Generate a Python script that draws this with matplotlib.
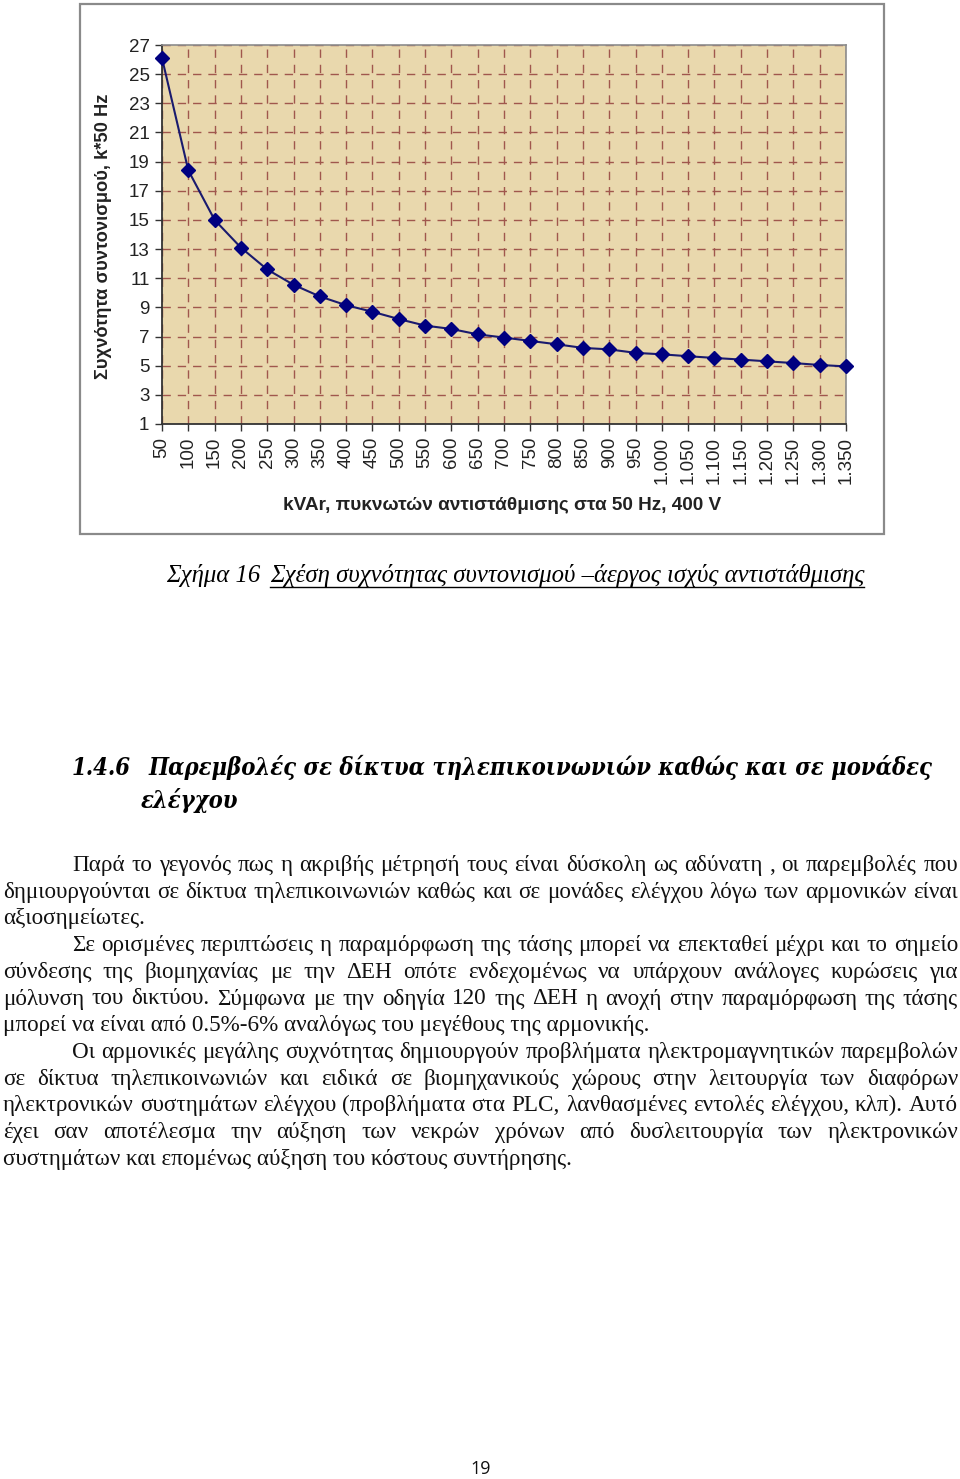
import matplotlib
matplotlib.use("Agg")
import matplotlib.pyplot as plt
from matplotlib.patches import Rectangle
from matplotlib.lines import Line2D

# ---------------- data ----------------
kvar_labels = ["50", "100", "150", "200", "250", "300", "350", "400", "450", "500",
               "550", "600", "650", "700", "750", "800", "850", "900", "950", "1.000",
               "1.050", "1.100", "1.150", "1.200", "1.250", "1.300", "1.350"]
k_values = [26.1, 18.4, 15.0, 13.1, 11.6, 10.55, 9.75, 9.15, 8.7, 8.2,
            7.75, 7.52, 7.15, 6.93, 6.7, 6.47, 6.22, 6.12, 5.88, 5.78,
            5.65, 5.53, 5.42, 5.3, 5.18, 5.05, 4.95]
y_ticks = list(range(1, 28, 2))

y_label = "Συχνότητα συντονισμού, k*50 Hz"
x_label = "kVAr, πυκνωτών αντιστάθμισης στα 50 Hz, 400 V"
caption_num = "Σχήμα 16"
caption_text = "Σχέση συχνότητας συντονισμού –άεργος ισχύς αντιστάθμισης"
heading_num = "1.4.6"
heading_l1 = "Παρεμβολές σε δίκτυα τηλεπικοινωνιών καθώς και σε μονάδες"
heading_l2 = "ελέγχου"
# (text, justified?, indented?)
para_lines = [
    ("Παρά το γεγονός πως η ακριβής μέτρησή τους είναι δύσκολη ως αδύνατη , οι παρεμβολές που", True, True),
    ("δημιουργούνται σε δίκτυα τηλεπικοινωνιών καθώς και σε μονάδες ελέγχου λόγω των αρμονικών είναι", True, False),
    ("αξιοσημείωτες.", False, False),
    ("Σε ορισμένες περιπτώσεις η παραμόρφωση της τάσης μπορεί να επεκταθεί μέχρι και το σημείο", True, True),
    ("σύνδεσης της βιομηχανίας με την ΔΕΗ οπότε ενδεχομένως να υπάρχουν ανάλογες κυρώσεις για", True, False),
    ("μόλυνση του δικτύου. Σύμφωνα με την οδηγία 120 της ΔΕΗ η ανοχή στην παραμόρφωση της τάσης", True, False),
    ("μπορεί να είναι από 0.5%-6% αναλόγως του μεγέθους της αρμονικής.", False, False),
    ("Οι αρμονικές μεγάλης συχνότητας δημιουργούν προβλήματα ηλεκτρομαγνητικών παρεμβολών", True, True),
    ("σε δίκτυα τηλεπικοινωνιών και ειδικά σε βιομηχανικούς χώρους στην λειτουργία των διαφόρων", True, False),
    ("ηλεκτρονικών συστημάτων ελέγχου (προβλήματα στα PLC, λανθασμένες εντολές ελέγχου, κλπ). Αυτό", True, False),
    ("έχει σαν αποτέλεσμα την αύξηση των νεκρών χρόνων από δυσλειτουργία των ηλεκτρονικών", True, False),
    ("συστημάτων και επομένως αύξηση του κόστους συντήρησης.", False, False),
]
page_number = "19"

# ---------------- figure ----------------
W, H = 960, 1479
fig = plt.figure(figsize=(W / 100, H / 100), dpi=100)
fig.patch.set_facecolor("white")
renderer = fig.canvas.get_renderer()


def fx(x):
    return x / W


def fy(y):
    return 1 - y / H


def measure(s, **kw):
    t = fig.text(0, 0, s, **kw)
    w = t.get_window_extent(renderer=renderer).width
    t.remove()
    return w


def fit_size(s, target, **kw):
    base = 20.0
    return base * target / measure(s, fontsize=base, **kw)


# chart frame (drawn beneath the axes)
frame = Rectangle((fx(80), fy(534)), fx(884) - fx(80), fy(4) - fy(534),
                  transform=fig.transFigure, facecolor="white",
                  edgecolor="#8a8a8a", lw=1.6, zorder=-5)
fig.add_artist(frame)

ax = fig.add_axes([fx(162), fy(424), fx(846) - fx(162), fy(45) - fy(424)])
ax.set_zorder(2)
ax.set_facecolor("#e9d8ad")
xs = list(range(len(kvar_labels)))
ax.set_xlim(0, len(kvar_labels) - 1)
ax.set_ylim(1, 27)
ax.set_yticks(y_ticks)
ax.set_xticks(xs)
ax.set_xticklabels(kvar_labels, rotation=90, fontsize=13.5, family="Liberation Sans", color="#222222")
ax.set_yticklabels([str(v) for v in y_ticks], fontsize=13.5, family="Liberation Sans", color="#222222")
ax.tick_params(axis="both", direction="out", length=5, width=1, color="#333333", pad=4)
ax.grid(True, color="#a0574d", lw=1.0, linestyle=(0, (6, 5)))
ax.set_axisbelow(True)
for side in ["top", "right"]:
    ax.spines[side].set_color("#8c8c8c")
    ax.spines[side].set_linewidth(1.2)
for side in ["left", "bottom"]:
    ax.spines[side].set_color("#333333")
    ax.spines[side].set_linewidth(1.3)

ax.plot(xs, k_values, color="#1a1a6e", lw=1.5, marker="D", markersize=7,
        markerfacecolor="#000080", markeredgecolor="#000080", clip_on=False, zorder=5)

ylab_fs = fit_size(y_label, 285, family="Liberation Sans", fontweight="bold")
fig.text(fx(104), fy(236), y_label, rotation=90, ha="center", va="center",
         fontsize=ylab_fs, family="Liberation Sans", fontweight="bold", color="#222222", zorder=3)
xlab_fs = fit_size(x_label, 439, family="Liberation Sans", fontweight="bold")
fig.text(fx(502), fy(505), x_label, ha="center", va="center",
         fontsize=xlab_fs, family="Liberation Sans", fontweight="bold", color="#222222", zorder=3)

# caption
cap_kw = dict(family="Liberation Serif", style="italic")
cap_fs = fit_size(caption_text, 594, **cap_kw)
fig.text(fx(166), fy(582), caption_num, ha="left", va="baseline", fontsize=cap_fs, **cap_kw)
fig.text(fx(270), fy(582), caption_text, ha="left", va="baseline", fontsize=cap_fs, **cap_kw)
fig.add_artist(Line2D([fx(270), fx(864)], [fy(587), fy(587)], transform=fig.transFigure,
                      color="black", lw=1.0))

# heading
head_kw = dict(family="DejaVu Serif", style="italic", fontweight="bold", fontstretch="condensed")
head_fs = fit_size(heading_l1, 933 - 148, **head_kw)
fig.text(fx(72), fy(775), heading_num, ha="left", va="baseline", fontsize=head_fs, **head_kw)
fig.text(fx(148), fy(775), heading_l1, ha="left", va="baseline", fontsize=head_fs, **head_kw)
fig.text(fx(141), fy(808), heading_l2, ha="left", va="baseline", fontsize=head_fs, **head_kw)

# paragraphs
body_kw = dict(family="Liberation Serif", color="#111111")
body_fs = fit_size(para_lines[6][0], 648, **body_kw)
left, right, indent = 3, 958, 72
y0, dy = 871, 26.7
for i, (line, just, ind) in enumerate(para_lines):
    yb = y0 + i * dy
    x0 = indent if ind else left
    if not just:
        fig.text(fx(x0), fy(yb), line, ha="left", va="baseline", fontsize=body_fs, **body_kw)
        continue
    words = line.split(" ")
    ws = [measure(w, fontsize=body_fs, **body_kw) for w in words]
    gap = (right - x0 - sum(ws)) / (len(words) - 1)
    x = x0
    for w, wd in zip(words, ws):
        fig.text(fx(x), fy(yb), w, ha="left", va="baseline", fontsize=body_fs, **body_kw)
        x += wd + gap

fig.text(fx(481), fy(1474), page_number, ha="center", va="baseline", fontsize=13,
         family="Open Sans", color="#111111")

fig.savefig("out.png", dpi=100, facecolor="white")
